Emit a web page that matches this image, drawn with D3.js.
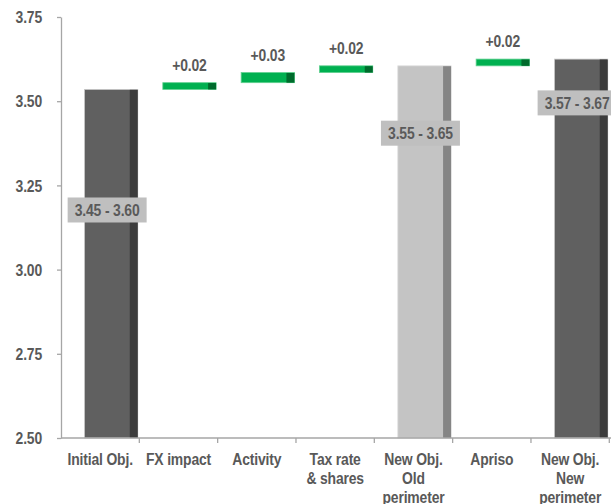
<!DOCTYPE html>
<html>
<head>
<meta charset="utf-8">
<script src="https://cdn.jsdelivr.net/npm/d3@7"></script>
<style>
  html, body { margin: 0; padding: 0; background: #ffffff; }
  svg text { font-family: "Liberation Sans", Arial, sans-serif; font-weight: bold; fill: #595959; }
</style>
</head>
<body>
<svg id="chart" width="611" height="504"></svg>
<script>
// EPS bridge: objective ranges and the contributions between them
const categories = ["Initial Obj.", "FX impact", "Activity", "Tax rate & shares", "New Obj. Old perimeter", "Apriso", "New Obj. New perimeter"];
const categoryLines = [["Initial Obj."], ["FX impact"], ["Activity"], ["Tax rate", "& shares"], ["New Obj.", "Old", "perimeter"], ["Apriso"], ["New Obj.", "New", "perimeter"]];
const barKind = ["total", "delta", "delta", "delta", "subtotal", "delta", "total"];
const barValues = [3.535, 0.02, 0.03, 0.02, 3.605, 0.02, 3.625];
const rangeLabels = ["3.45 - 3.60", null, null, null, "3.55 - 3.65", null, "3.57 - 3.67"];
const yTicks = [2.50, 2.75, 3.00, 3.25, 3.50, 3.75];

const svg = d3.select("#chart");

const x = d3.scaleBand().domain(categories).range([61, 609.3]).padding(0);
const y = d3.scaleLinear().domain([2.5, 3.75]).range([438, 17]);

const bw = x.bandwidth();
const barOffset = bw * 0.30;
const barW = bw * 0.68;
const sideW = barW * 0.15;
const FONT_SIZE = 17;
const SQUEEZE = 0.82;   // condensed face
const LINE_GAP = 18.8;

// where each range tag sits along the value axis
const rangeLabelAt = [3.177, null, null, null, 3.405, null, 3.495];

const palette = {
  total:    { face: "#606060", side: "#3c3c3c", edge: "#c9c9c9" },
  subtotal: { face: "#c4c4c4", side: "#858585", edge: "#dedede" },
  delta:    { face: "#00b050", side: "#006b2c", edge: "#5fd08f" }
};

// condensed text: horizontally squeezed bold sans
function narrowText(parent, px, py, lines, anchor, fill) {
  const g = parent.append("g").attr("transform", `translate(${px},${py}) scale(${SQUEEZE},1)`);
  const t = g.append("text").attr("text-anchor", anchor).attr("font-size", FONT_SIZE)
    .attr("letter-spacing", -0.2);
  if (fill) t.style("fill", fill);
  [].concat(lines).forEach((ln, k) => {
    t.append("tspan").attr("x", 0).attr("dy", k === 0 ? 0 : LINE_GAP).text(ln);
  });
  return g;
}

// running totals for the floating bars
let running = 0;
const bars = categories.map((c, i) => {
  let lo, hi;
  if (barKind[i] === "delta") { lo = running; hi = running + barValues[i]; running = hi; }
  else { lo = 2.5; hi = barValues[i]; running = barValues[i]; }
  return { c, i, lo, hi, kind: barKind[i] };
});

// y axis
const yAxis = d3.axisLeft(y).tickValues(yTicks).tickFormat(d3.format(".2f")).tickSize(4).tickSizeOuter(0).tickPadding(15);
const gy = svg.append("g").attr("transform", "translate(61,0)").call(yAxis);
gy.select(".domain").attr("stroke", "#a6a6a6").attr("stroke-width", 1.3);
gy.selectAll(".tick line").attr("stroke", "#a6a6a6").attr("stroke-width", 1.3);
gy.selectAll(".tick text")
  .attr("font-size", FONT_SIZE).attr("font-family", null).attr("letter-spacing", -0.2)
  .attr("x", 0).attr("dy", "0.34em")
  .attr("transform", `translate(-19,0) scale(${SQUEEZE},1)`)
  .style("fill", "#595959");

// bars
const gb = svg.append("g");
bars.forEach(b => {
  const x0 = x(b.c) + barOffset;
  const yTop = y(b.hi), yBot = y(b.lo);
  const col = palette[b.kind];
  gb.append("rect").attr("x", x0).attr("y", yTop).attr("width", barW).attr("height", yBot - yTop)
    .attr("fill", col.face).attr("stroke", col.edge).attr("stroke-width", 0.8);
  gb.append("rect").attr("x", x0 + barW - sideW).attr("y", yTop + 0.4).attr("width", sideW).attr("height", yBot - yTop - 0.4)
    .attr("fill", col.side);
});

// x axis
const gx = svg.append("g");
gx.append("line").attr("x1", 61).attr("x2", 611).attr("y1", y(2.5)).attr("y2", y(2.5))
  .attr("stroke", "#a6a6a6").attr("stroke-width", 1.3);
const boundaries = categories.map(c => x(c)).slice(1).concat([x.range()[1]]);
boundaries.forEach(bx => {
  gx.append("line").attr("x1", bx).attr("x2", bx).attr("y1", y(2.5)).attr("y2", y(2.5) + 5)
    .attr("stroke", "#a6a6a6").attr("stroke-width", 1.3);
});
categories.forEach((c, i) => {
  narrowText(gx, x(c) + bw / 2, 465, categoryLines[i], "middle");
});

// delta labels
const fmtDelta = d3.format("+.2f");
bars.filter(b => b.kind === "delta").forEach(b => {
  narrowText(svg, x(b.c) + barOffset + barW / 2, y(b.hi) - 12, fmtDelta(barValues[b.i]), "middle");
});

// range tags on the objective bars
bars.forEach(b => {
  if (!rangeLabels[b.i]) return;
  const cx = x(b.c) + barOffset + (barW - sideW) / 2;
  const cy = y(rangeLabelAt[b.i]);
  svg.append("rect").attr("x", cx - 39.5).attr("y", cy - 12.5).attr("width", 79).attr("height", 25)
    .attr("fill", "#bfbfbf");
  narrowText(svg, cx, cy + 6, rangeLabels[b.i], "middle", "#5a5a5a");
});
</script>
</body>
</html>
